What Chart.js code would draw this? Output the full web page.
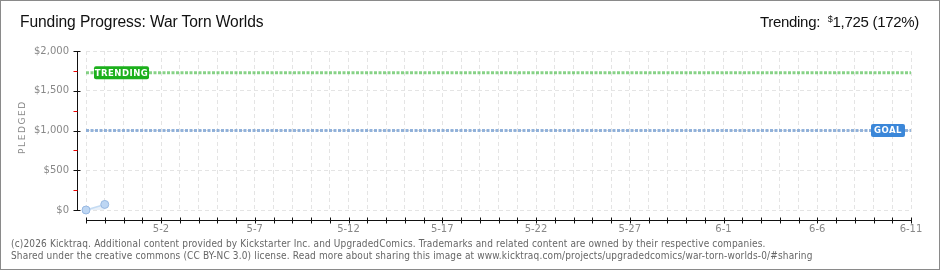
<!DOCTYPE html>
<html>
<head>
<meta charset="utf-8">
<script src="https://cdn.jsdelivr.net/npm/chart.js@4.4.1/dist/chart.umd.min.js"></script>
<style>
  html, body { margin: 0; padding: 0; background: #fff; }
  #wrap { position: relative; width: 940px; height: 270px; box-sizing: border-box; border: 1px solid #8a8a8a; overflow: hidden; }
  #chart { position: absolute; left: -1px; top: -1px; }
  .title { position: absolute; left: 19px; top: 12px; font: 15.6px "Liberation Sans", Arial, sans-serif; color: #111; letter-spacing: -0.1px; }
  .trend { position: absolute; right: 20px; top: 12px; font: 15px "Liberation Sans", Arial, sans-serif; color: #111; letter-spacing: -0.3px; }
  .trend sup { font-size: 9px; vertical-align: 5px; }
  .ytitle { position: absolute; left: -4px; top: 123px; width: 50px; text-align: center; transform: rotate(-90deg); font: 9px "DejaVu Sans", sans-serif; letter-spacing: 1.6px; color: #8a8a8a; }
  .foot { position: absolute; left: 10px; top: 237px; font: 10px "DejaVu Sans Condensed", "DejaVu Sans", sans-serif; color: #666; line-height: 11.5px; letter-spacing: 0.15px; }
</style>
</head>
<body>
<div id="wrap">
  <canvas id="chart" width="940" height="270"></canvas>
  <div class="title">Funding Progress: War Torn Worlds</div>
  <div class="trend">Trending: &nbsp;<sup>$</sup>1,725 (172%)</div>
  <div class="ytitle">PLEDGED</div>
  <div class="foot">(c)2026 Kicktraq. Additional content provided by Kickstarter Inc. and UpgradedComics. Trademarks and related content are owned by their respective companies.<br>Shared under the creative commons (CC BY-NC 3.0) license. Read more about sharing this image at www.kicktraq.com/projects/upgradedcomics/war-torn-worlds-0/#sharing</div>
</div>
<script>
// days of the campaign (x categories)
const days = ["4-28","4-29","4-30","5-1","5-2","5-3","5-4","5-5","5-6","5-7","5-8","5-9","5-10","5-11",
  "5-12","5-13","5-14","5-15","5-16","5-17","5-18","5-19","5-20","5-21","5-22","5-23","5-24","5-25",
  "5-26","5-27","5-28","5-29","5-30","5-31","6-1","6-2","6-3","6-4","6-5","6-6","6-7","6-8","6-9","6-10","6-11"];
const labeledDays = ["5-2","5-7","5-12","5-17","5-22","5-27","6-1","6-6","6-11"];
const pledged = [0, 70];
const goal = 1000;
const trending = 1725;
const yMax = 2000;
const yStep = 500;

const axisDeco = {
  id: "axisDeco",
  afterDraw(chart) {
    const ctx = chart.ctx;
    const xs = chart.scales.x, ys = chart.scales.y;
    const area = chart.chartArea;
    ctx.save();
    // y axis
    const ax = Math.round(area.left - 9) + 0.5;
    ctx.strokeStyle = "#111";
    ctx.lineWidth = 1;
    ctx.beginPath();
    ctx.moveTo(ax, ys.getPixelForValue(yMax));
    ctx.lineTo(ax, ys.getPixelForValue(0) + 1);
    ctx.stroke();
    for (let v = 0; v <= yMax; v += yStep / 2) {
      const y = Math.round(ys.getPixelForValue(v)) + 0.5;
      ctx.strokeStyle = v % yStep === 0 ? "#111" : "#e00";
      ctx.beginPath();
      ctx.moveTo(ax - 4, y);
      ctx.lineTo(v % yStep === 0 ? ax + 3 : ax, y);
      ctx.stroke();
    }
    // x axis
    const ay = Math.round(area.bottom + 10) + 0.5;
    ctx.strokeStyle = "#111";
    ctx.beginPath();
    ctx.moveTo(xs.getPixelForValue(0), ay);
    ctx.lineTo(xs.getPixelForValue(days.length - 1) + 1, ay);
    ctx.stroke();
    days.forEach((d, i) => {
      const x = Math.round(xs.getPixelForValue(i)) + 0.5;
      ctx.beginPath();
      ctx.moveTo(x, ay - 3);
      ctx.lineTo(x, ay + 3);
      ctx.stroke();
    });
    // tags
    const tag = (text, color, x, w, value) => {
      const y = ys.getPixelForValue(value);
      ctx.fillStyle = color;
      ctx.beginPath();
      ctx.roundRect(x, y - 6.5, w, 13, 2);
      ctx.fill();
      ctx.font = "bold 8.5px 'DejaVu Sans', sans-serif";
      ctx.fillStyle = "#fff";
      ctx.textBaseline = "middle";
      ctx.textAlign = "center";
      ctx.letterSpacing = "0.5px";
      ctx.fillText(text, x + w / 2, y + 0.5);
    };
    tag("TRENDING", "#1cb01c", area.left + 8, 55, trending);
    tag("GOAL", "#3b87d9", area.right - 40, 34, goal);
    ctx.restore();
  }
};

new Chart(document.getElementById("chart"), {
  type: "line",
  data: {
    labels: days,
    datasets: [
      {
        label: "Pledged",
        data: pledged,
        borderColor: "#c4dbf3",
        borderWidth: 1.5,
        backgroundColor: "rgba(205,222,242,0.45)",
        fill: "origin",
        clip: false,
        pointRadius: 4,
        pointBackgroundColor: "#bdd6f3",
        pointBorderColor: "#98b9e2",
        pointBorderWidth: 1,
        tension: 0
      },
      {
        label: "Trending",
        data: [{ x: days[0], y: trending }, { x: days[days.length - 1], y: trending }],
        borderColor: "rgba(95,195,95,0.75)",
        borderWidth: 3,
        borderDash: [3, 1.5],
        pointRadius: 0,
        fill: false
      },
      {
        label: "Goal",
        data: [{ x: days[0], y: goal }, { x: days[days.length - 1], y: goal }],
        borderColor: "rgba(120,160,210,0.8)",
        borderWidth: 3,
        borderDash: [3, 1.5],
        pointRadius: 0,
        fill: false
      }
    ]
  },
  options: {
    responsive: false,
    animation: false,
    layout: { padding: { left: 0, top: 51, right: 29, bottom: 30 } },
    plugins: { legend: { display: false }, tooltip: { enabled: false } },
    scales: {
      x: {
        type: "category",
        offset: false,
        afterFit: s => { s.height = 30; },
        border: { display: false, dash: [4, 3] },
        grid: { color: "#e4e4e4", drawTicks: false, lineWidth: 1 },
        ticks: {
          autoSkip: false,
          maxRotation: 0,
          padding: 13,
          color: "#888",
          font: { family: "DejaVu Sans", size: 10 },
          callback: (v, i) => labeledDays.includes(days[i]) ? days[i] : ""
        }
      },
      y: {
        min: 0,
        max: yMax,
        afterFit: s => { s.width = 86; },
        border: { display: false, dash: [4, 3] },
        grid: { color: "#e4e4e4", drawTicks: false },
        ticks: {
          stepSize: yStep,
          padding: 17,
          color: "#888",
          font: { family: "DejaVu Sans", size: 10 },
          callback: v => "$" + v.toLocaleString("en-US")
        }
      }
    }
  },
  plugins: [axisDeco]
});
</script>
</body>
</html>
